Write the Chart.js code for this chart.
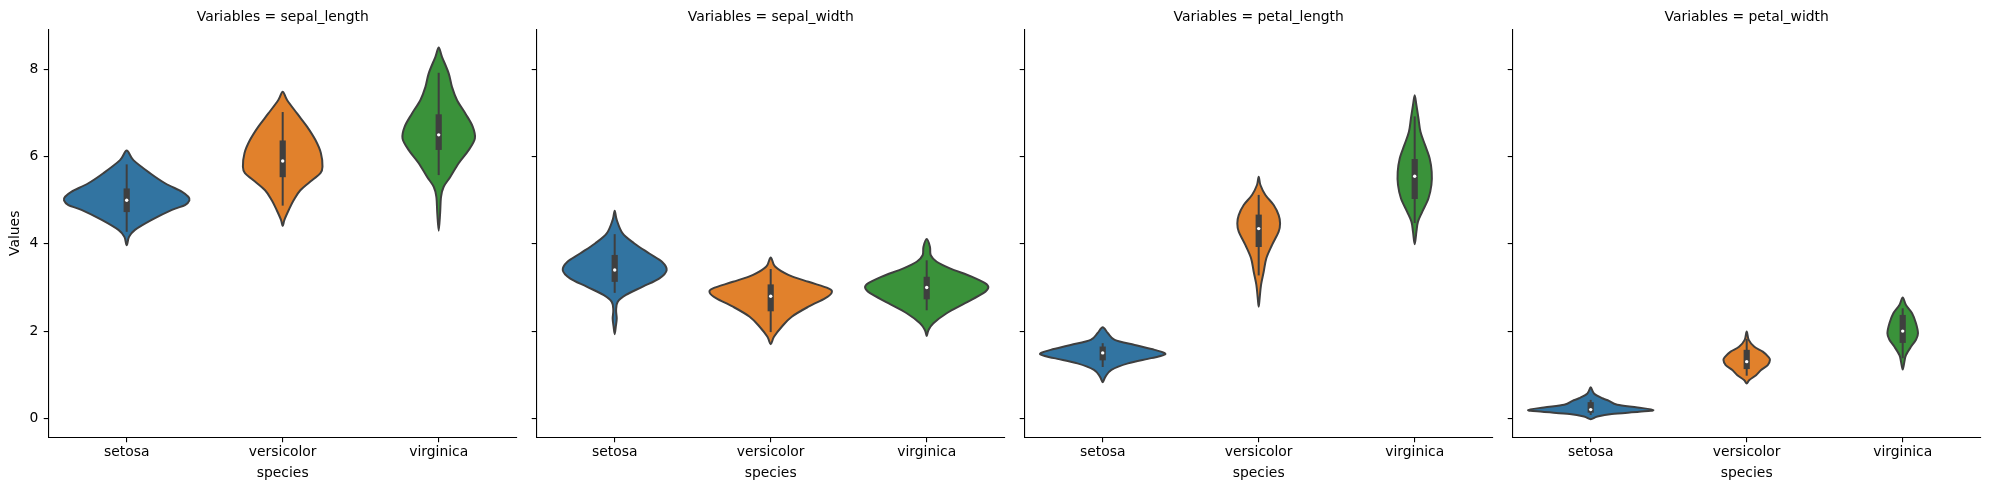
<!DOCTYPE html>
<html>
<head>
<meta charset="utf-8">
<script src="https://cdn.jsdelivr.net/npm/chart.js@4.4.1/dist/chart.umd.min.js"></script>
<style>
  html, body { margin: 0; padding: 0; background: #fff; overflow: hidden; }
  #wrap { position: relative; width: 1989px; height: 490px; overflow: hidden; }
  #wrap canvas { position: absolute; top: 0; }
</style>
</head>
<body>
<div id="wrap"></div>
<script>
const species = ['setosa', 'versicolor', 'virginica'];
const variables = ['sepal_length', 'sepal_width', 'petal_length', 'petal_width'];
const yTicks = [0, 2, 4, 6, 8];
const yMin = -0.435;
const yMax = 8.92;

// inner box per species: [low whisker, q1, median, q3, high whisker]
const sepalLengthBox = [[4.3, 4.8, 5.0, 5.2, 5.8], [4.9, 5.6, 5.9, 6.3, 7.0], [5.6, 6.225, 6.5, 6.9, 7.9]];
const sepalWidthBox = [[2.9, 3.2, 3.4, 3.675, 4.2], [2.0, 2.525, 2.8, 3.0, 3.4], [2.5, 2.8, 3.0, 3.175, 3.6]];
const petalLengthBox = [[1.2, 1.4, 1.5, 1.575, 1.7], [3.3, 4.0, 4.35, 4.6, 5.1], [4.5, 5.1, 5.55, 5.875, 6.9]];
const petalWidthBox = [[0.1, 0.2, 0.2, 0.3, 0.4], [1.0, 1.2, 1.3, 1.5, 1.8], [1.4, 1.8, 2.0, 2.3, 2.5]];

// violin outline per species: [value, half width in category units], top to bottom
const sepalLengthViolin = [
  [[6.14, 0], [5.92, 0.043], [5.62, 0.15], [5.39, 0.246], [5.20, 0.353], [5.08, 0.395], [5.0, 0.402], [4.89, 0.374], [4.78, 0.29], [4.55, 0.16], [4.32, 0.053], [4.16, 0.015], [3.97, 0]],
  [[7.49, 0], [7.30, 0.028], [6.99, 0.092], [6.69, 0.156], [6.38, 0.21], [6.08, 0.245], [5.77, 0.255], [5.62, 0.242], [5.46, 0.188], [5.23, 0.113], [5.0, 0.07], [4.77, 0.038], [4.55, 0.011], [4.41, 0]],
  [[8.50, 0], [8.29, 0.021], [7.91, 0.064], [7.60, 0.085], [7.30, 0.117], [6.99, 0.171], [6.69, 0.218], [6.42, 0.232], [6.15, 0.192], [5.85, 0.128], [5.54, 0.075], [5.31, 0.032], [5.08, 0.015], [4.70, 0.009], [4.30, 0]]
];
const sepalWidthViolin = [
  [[4.76, 0], [4.55, 0.013], [4.24, 0.051], [4.01, 0.126], [3.78, 0.222], [3.59, 0.303], [3.40, 0.333], [3.21, 0.287], [3.02, 0.18], [2.83, 0.072], [2.67, 0.019], [2.48, 0.009], [2.29, 0.013], [2.10, 0.007], [1.93, 0]],
  [[3.69, 0], [3.48, 0.028], [3.29, 0.113], [3.13, 0.242], [2.98, 0.37], [2.88, 0.391], [2.75, 0.348], [2.56, 0.242], [2.33, 0.135], [2.10, 0.071], [1.87, 0.021], [1.70, 0]],
  [[4.11, 0], [3.93, 0.021], [3.74, 0.026], [3.59, 0.064], [3.44, 0.149], [3.25, 0.288], [3.10, 0.374], [3.00, 0.395], [2.87, 0.363], [2.64, 0.246], [2.41, 0.128], [2.18, 0.043], [2.02, 0.011], [1.89, 0]]
];
const petalLengthViolin = [
  [[2.09, 0], [1.95, 0.034], [1.80, 0.077], [1.68, 0.205], [1.57, 0.333], [1.47, 0.402], [1.38, 0.312], [1.26, 0.162], [1.11, 0.056], [0.95, 0.017], [0.83, 0]],
  [[5.54, 0], [5.35, 0.011], [5.12, 0.043], [4.89, 0.096], [4.66, 0.128], [4.47, 0.137], [4.28, 0.128], [3.97, 0.085], [3.67, 0.049], [3.36, 0.032], [3.06, 0.015], [2.75, 0.006], [2.56, 0]],
  [[7.41, 0], [7.18, 0.011], [6.88, 0.024], [6.57, 0.037], [6.27, 0.066], [5.96, 0.096], [5.65, 0.109], [5.35, 0.107], [5.04, 0.088], [4.74, 0.049], [4.51, 0.021], [4.28, 0.011], [3.99, 0]]
];
const petalWidthViolin = [
  [[0.71, 0], [0.57, 0.021], [0.46, 0.075], [0.40, 0.117], [0.31, 0.17], [0.25, 0.30], [0.19, 0.402], [0.15, 0.31], [0.10, 0.135], [0.04, 0.043], [-0.02, 0]],
  [[1.99, 0], [1.80, 0.013], [1.64, 0.049], [1.53, 0.103], [1.41, 0.139], [1.34, 0.149], [1.22, 0.135], [1.11, 0.092], [0.99, 0.06], [0.88, 0.017], [0.80, 0]],
  [[2.77, 0], [2.60, 0.021], [2.41, 0.06], [2.18, 0.085], [1.95, 0.098], [1.80, 0.085], [1.64, 0.053], [1.45, 0.021], [1.30, 0.011], [1.12, 0]]
];

const violins = [sepalLengthViolin, sepalWidthViolin, petalLengthViolin, petalWidthViolin];
const boxes = [sepalLengthBox, sepalWidthBox, petalLengthBox, petalWidthBox];

const fills = ['#3274a1', '#e1812c', '#3a923a'];
const gray = '#3f3f3f';
const FONT = 'DejaVu Sans';
const FS = 13.89;

Chart.defaults.font.family = FONT;
Chart.defaults.font.size = FS;
Chart.defaults.color = '#000';

// closed catmull-rom curve through the outline points
function smoothPath(ctx, pts) {
  const n = pts.length;
  ctx.beginPath();
  ctx.moveTo(pts[0][0], pts[0][1]);
  for (let i = 0; i < n; i++) {
    const p0 = pts[(i - 1 + n) % n], p1 = pts[i], p2 = pts[(i + 1) % n], p3 = pts[(i + 2) % n];
    ctx.bezierCurveTo(
      p1[0] + (p2[0] - p0[0]) / 6, p1[1] + (p2[1] - p0[1]) / 6,
      p2[0] - (p3[0] - p1[0]) / 6, p2[1] - (p3[1] - p1[1]) / 6,
      p2[0], p2[1]);
  }
  ctx.closePath();
}

const violinPlugin = {
  id: 'violins',
  beforeDatasetsDraw(chart) {
    const idx = chart.options.panelIndex;
    const {ctx, scales: {x, y}} = chart;
    const catW = x.getPixelForValue(1) - x.getPixelForValue(0);
    ctx.save();
    violins[idx].forEach((prof, i) => {
      const cx = x.getPixelForValue(i);
      const pts = [];
      prof.forEach(([v, w]) => pts.push([cx + w * catW, y.getPixelForValue(v)]));
      for (let k = prof.length - 2; k >= 1; k--) {
        const [v, w] = prof[k];
        pts.push([cx - w * catW, y.getPixelForValue(v)]);
      }
      smoothPath(ctx, pts);
      ctx.fillStyle = fills[i];
      ctx.fill();
      ctx.lineWidth = 2;
      ctx.strokeStyle = gray;
      ctx.lineJoin = 'round';
      ctx.stroke();

      const [lo, q1, , q3, hi] = boxes[idx][i];
      ctx.strokeStyle = gray;
      ctx.lineCap = 'square';
      ctx.lineWidth = 2;
      ctx.beginPath();
      ctx.moveTo(cx, y.getPixelForValue(lo));
      ctx.lineTo(cx, y.getPixelForValue(hi));
      ctx.stroke();
      ctx.lineWidth = 6.2;
      ctx.beginPath();
      ctx.moveTo(cx, y.getPixelForValue(q1));
      ctx.lineTo(cx, y.getPixelForValue(q3));
      ctx.stroke();
    });
    ctx.restore();
  },
  afterDraw(chart) {
    const {ctx, chartArea} = chart;
    ctx.save();
    ctx.font = FS + 'px "' + FONT + '"';
    ctx.fillStyle = '#000';
    ctx.textAlign = 'center';
    ctx.textBaseline = 'alphabetic';
    ctx.fillText('Variables = ' + variables[chart.options.panelIndex],
      (chartArea.left + chartArea.right) / 2, chartArea.top - 8.3);
    ctx.restore();
  }
};

const wrap = document.getElementById('wrap');
variables.forEach((name, idx) => {
  const canvas = document.createElement('canvas');
  canvas.width = 566;
  canvas.height = 490;
  canvas.style.left = (idx * 488) + 'px';
  wrap.appendChild(canvas);

  new Chart(canvas, {
    type: 'line',
    data: {
      labels: species,
      datasets: [{
        data: boxes[idx].map(b => b[2]),
        showLine: false,
        pointRadius: 1.7,
        pointBorderWidth: 0,
        pointBackgroundColor: '#fff'
      }]
    },
    options: {
      panelIndex: idx,
      responsive: false,
      animation: false,
      layout: { padding: { top: 29.3, right: 49.3, left: 0, bottom: 0 } },
      plugins: { legend: { display: false }, tooltip: { enabled: false } },
      scales: {
        x: {
          type: 'category',
          offset: true,
          grid: { drawOnChartArea: false, drawTicks: true, tickLength: 5, color: '#000', lineWidth: 1.1, offset: false },
          border: { display: true, color: '#000', width: 1.1 },
          ticks: { padding: 2, maxRotation: 0, autoSkip: false },
          title: { display: true, text: 'species', padding: { top: 0, bottom: 8.5 } },
          afterFit: s => { s.height = 52.7; }
        },
        y: {
          min: yMin,
          max: yMax,
          afterBuildTicks: s => { s.ticks = yTicks.map(v => ({ value: v })); },
          grid: { drawOnChartArea: false, drawTicks: true, tickLength: 5, color: '#000', lineWidth: 1.1 },
          border: { display: true, color: '#000', width: 1.1 },
          ticks: { display: idx === 0, padding: 5.4 },
          title: { display: idx === 0, text: 'Values', padding: { top: 7, bottom: 0 } },
          afterFit: s => { s.width = 48.7; }
        }
      }
    },
    plugins: [violinPlugin]
  });
});
</script>
</body>
</html>
